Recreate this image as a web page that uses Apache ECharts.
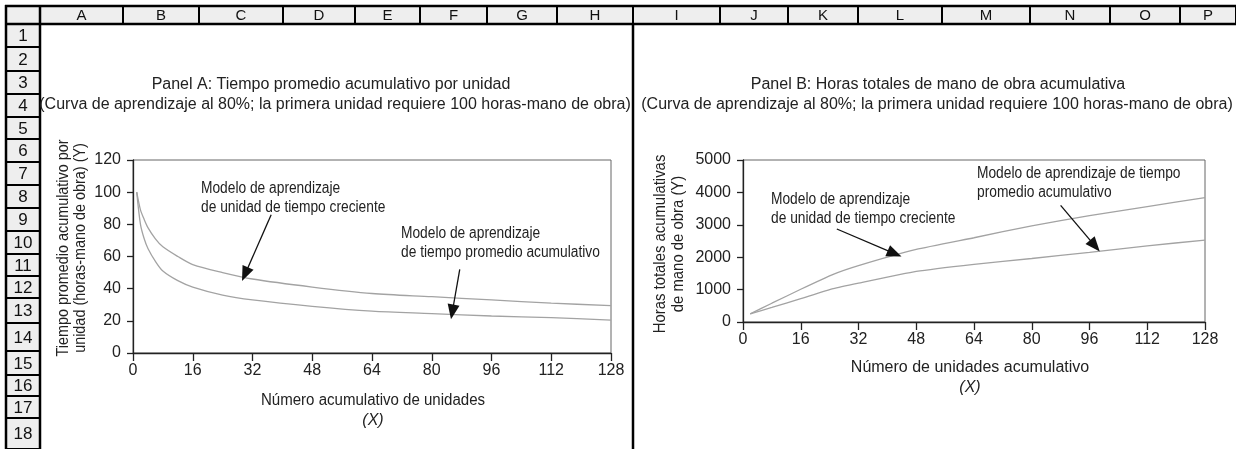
<!DOCTYPE html>
<html>
<head>
<meta charset="utf-8">
<script src="https://cdn.jsdelivr.net/npm/echarts@6/dist/echarts.min.js"></script>
<style>
  html, body { margin: 0; padding: 0; background: #fff; }
  #main { width: 1236px; height: 449px; }
</style>
</head>
<body>
<div id="main"></div>
<script>
// Panel A: tiempo promedio acumulativo por unidad
const unitsA = [1, 2, 3, 4, 6, 8, 12, 16, 24, 32, 48, 64, 80, 96, 112, 128];
const avgIncremental = [100, 89, 83, 78, 71, 66, 60, 55, 50, 46, 41, 37, 35, 33, 31, 29.5];
const avgCumulative = [100, 80, 71, 65, 57, 51, 45, 41, 36, 33, 29, 26, 24.5, 23, 22, 20.5];

// Panel B: horas totales acumulativas
const unitsB = [2, 8, 16, 25, 32, 48, 64, 80, 96, 112, 128];
const totalIncremental = [250, 580, 1010, 1470, 1740, 2240, 2600, 2970, 3280, 3560, 3840];
const totalCumulative = [250, 450, 720, 1030, 1200, 1560, 1780, 1960, 2150, 2350, 2530];

// hoja de cálculo
const colNames = ['A', 'B', 'C', 'D', 'E', 'F', 'G', 'H', 'I', 'J', 'K', 'L', 'M', 'N', 'O', 'P'];
const colEdges = [40, 123, 199, 283, 355, 420, 487, 557, 633, 720, 788, 858, 942, 1030, 1110, 1180, 1236];
const rowEdges = [24, 47, 71, 94, 117, 139, 162, 185, 208, 231, 254, 276, 298, 323, 351, 375, 396, 418, 449];

const FONT = "'Liberation Sans Narrow', 'Arial Narrow', 'Liberation Sans', Arial, sans-serif";
const HFONT = "'Liberation Sans', Arial, sans-serif";
const curveColor = '#a3a3a3';

function pairs(xs, ys) {
  return xs.map((x, i) => [x, ys[i]]);
}

function arrow(from, to) {
  return [{ coord: from }, { coord: to }];
}

// rejilla tipo Excel
let sheet = [];
sheet.push({ type: 'rect', shape: { x: 6, y: 6, width: 1230, height: 18 }, style: { fill: '#eeeeee' } });
sheet.push({ type: 'rect', shape: { x: 6, y: 24, width: 34, height: 425 }, style: { fill: '#eeeeee' } });
sheet.push({ type: 'line', shape: { x1: 5, y1: 6, x2: 1236, y2: 6 }, style: { stroke: '#000', lineWidth: 2.5 } });
sheet.push({ type: 'line', shape: { x1: 5, y1: 24, x2: 1236, y2: 24 }, style: { stroke: '#000', lineWidth: 2.5 } });
sheet.push({ type: 'line', shape: { x1: 6, y1: 5, x2: 6, y2: 449 }, style: { stroke: '#000', lineWidth: 2.5 } });
sheet.push({ type: 'line', shape: { x1: 40, y1: 5, x2: 40, y2: 449 }, style: { stroke: '#000', lineWidth: 2.5 } });
colEdges.forEach((x, i) => {
  sheet.push({ type: 'line', shape: { x1: x, y1: 6, x2: x, y2: 24 }, style: { stroke: '#000', lineWidth: 2 } });
  if (i < colNames.length) {
    sheet.push({
      type: 'text',
      style: { text: colNames[i], x: (x + colEdges[i + 1]) / 2, y: 15.5, textAlign: 'center', textVerticalAlign: 'middle', fontSize: 15, fontFamily: HFONT, fill: '#111' }
    });
  }
});
rowEdges.forEach((y, i) => {
  sheet.push({ type: 'line', shape: { x1: 6, y1: y, x2: 40, y2: y }, style: { stroke: '#000', lineWidth: 2 } });
  if (i < rowEdges.length - 1) {
    sheet.push({
      type: 'text',
      style: { text: String(i + 1), x: 23, y: (y + rowEdges[i + 1]) / 2 + 1, textAlign: 'center', textVerticalAlign: 'middle', fontSize: 17, fontFamily: HFONT, fill: '#111' }
    });
  }
});
// separador entre paneles
sheet.push({ type: 'line', shape: { x1: 633, y1: 24, x2: 633, y2: 449 }, style: { stroke: '#000', lineWidth: 2.5 } });

function txt(text, x, y, opts) {
  opts = opts || {};
  return {
    type: 'text',
    x: x, y: y,
    rotation: opts.rotation || 0,
    scaleX: opts.scaleX || 1,
    style: Object.assign({
      text: text, x: 0, y: 0,
      textAlign: 'center', textVerticalAlign: 'middle',
      fontSize: 16, fontFamily: FONT, fill: '#222', lineHeight: 18
    }, opts.style)
  };
}

const noteStyle = { textAlign: 'left', fontSize: 16, lineHeight: 19 };

let labels = [
  txt('Panel A: Tiempo promedio acumulativo por unidad', 331, 85),
  txt('(Curva de aprendizaje al 80%; la primera unidad requiere 100 horas-mano de obra)', 335, 105),
  txt('Panel B: Horas totales de mano de obra acumulativa', 938, 85),
  txt('(Curva de aprendizaje al 80%; la primera unidad requiere 100 horas-mano de obra)', 937, 105),
  txt('Tiempo promedio acumulativo por\nunidad (horas-mano de obra) (Y)', 72, 248, { rotation: Math.PI / 2, scaleX: 0.9, style: { lineHeight: 17 } }),
  txt('Horas totales acumulativas\nde mano de obra (Y)', 670, 244, { rotation: Math.PI / 2, scaleX: 0.93, style: { lineHeight: 18 } }),
  txt('Número acumulativo de unidades', 373, 401, { scaleX: 0.94 }),
  txt('(X)', 373, 421, { style: { fontStyle: 'italic' } }),
  txt('Número de unidades acumulativo', 970, 368),
  txt('(X)', 970, 388, { style: { fontStyle: 'italic' } }),
  txt('Modelo de aprendizaje\nde unidad de tiempo creciente', 201, 198, { scaleX: 0.86, style: noteStyle }),
  txt('Modelo de aprendizaje\nde tiempo promedio acumulativo', 401, 243, { scaleX: 0.86, style: noteStyle }),
  txt('Modelo de aprendizaje\nde unidad de tiempo creciente', 771, 209, { scaleX: 0.86, style: noteStyle }),
  txt('Modelo de aprendizaje de tiempo\npromedio acumulativo', 977, 183, { scaleX: 0.86, style: noteStyle })
];

const arrowLine = {
  silent: true,
  symbol: ['none', 'triangle'],
  symbolSize: [12, 15],
  label: { show: false },
  lineStyle: { color: '#111', width: 1.3, type: 'solid' },
  itemStyle: { color: '#111' },
  emphasis: { disabled: true }
};

function xAxisCfg(gridIndex) {
  return {
    type: 'value', gridIndex: gridIndex,
    min: 0, max: 128, interval: 16,
    axisLine: { show: true, onZero: false, lineStyle: { color: '#222', width: 1.3 } },
    axisTick: { show: true, length: 8, lineStyle: { color: '#222', width: 1.3 } },
    axisLabel: { fontSize: 16, fontFamily: FONT, color: '#222', margin: 10, showMaxLabel: true, showMinLabel: true },
    splitLine: { show: false }
  };
}

function yAxisCfg(gridIndex, max, interval) {
  return {
    type: 'value', gridIndex: gridIndex,
    min: 0, max: max, interval: interval,
    axisLine: { show: true, onZero: false, lineStyle: { color: '#222', width: 1.3 } },
    axisTick: { show: true, length: 6, lineStyle: { color: '#222', width: 1.3 } },
    axisLabel: { fontSize: 16, fontFamily: FONT, color: '#222', margin: 12, formatter: v => String(v) },
    splitLine: { show: false }
  };
}

const chart = echarts.init(document.getElementById('main'), null, { renderer: 'canvas' });
chart.setOption({
  backgroundColor: '#fff',
  animation: false,
  grid: [
    { left: 133, top: 160, width: 478, height: 193, show: true, borderColor: '#666', borderWidth: 1, backgroundColor: 'transparent' },
    { left: 743, top: 160, width: 462, height: 162, show: true, borderColor: '#666', borderWidth: 1, backgroundColor: 'transparent' }
  ],
  xAxis: [xAxisCfg(0), xAxisCfg(1)],
  yAxis: [yAxisCfg(0, 120, 20), yAxisCfg(1, 5000, 1000)],
  series: [
    {
      name: 'Modelo de aprendizaje de unidad de tiempo creciente',
      type: 'line', xAxisIndex: 0, yAxisIndex: 0,
      data: pairs(unitsA, avgIncremental),
      smooth: 0.3, showSymbol: false,
      lineStyle: { color: curveColor, width: 1.3 },
      markLine: Object.assign({ data: [arrow([37, 86], [30, 49])] }, arrowLine)
    },
    {
      name: 'Modelo de aprendizaje de tiempo promedio acumulativo',
      type: 'line', xAxisIndex: 0, yAxisIndex: 0,
      data: pairs(unitsA, avgCumulative),
      smooth: 0.3, showSymbol: false,
      lineStyle: { color: curveColor, width: 1.3 },
      markLine: Object.assign({ data: [arrow([87.5, 52], [85.5, 25.5])] }, arrowLine)
    },
    {
      name: 'Modelo de aprendizaje de unidad de tiempo creciente',
      type: 'line', xAxisIndex: 1, yAxisIndex: 1,
      data: pairs(unitsB, totalIncremental),
      smooth: 0.15, showSymbol: false,
      lineStyle: { color: curveColor, width: 1.3 },
      markLine: Object.assign({ data: [arrow([26, 2870], [42, 2110])] }, arrowLine)
    },
    {
      name: 'Modelo de aprendizaje de tiempo promedio acumulativo',
      type: 'line', xAxisIndex: 1, yAxisIndex: 1,
      data: pairs(unitsB, totalCumulative),
      smooth: 0.15, showSymbol: false,
      lineStyle: { color: curveColor, width: 1.3 },
      markLine: Object.assign({ data: [arrow([88, 3600], [97.5, 2350])] }, arrowLine)
    }
  ],
  graphic: sheet.concat(labels)
});
</script>
</body>
</html>
